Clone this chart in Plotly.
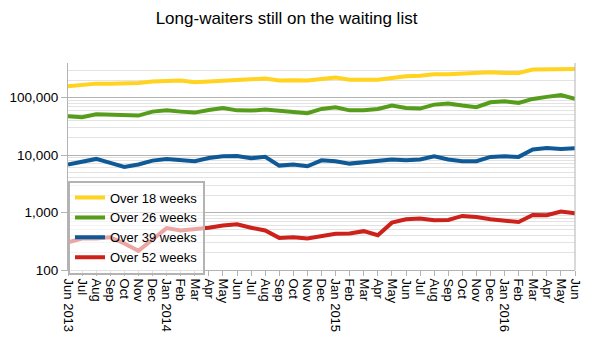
import math
import plotly.graph_objects as go

month_labels = [
    "Jun 2013", "Jul", "Aug", "Sep", "Oct", "Nov", "Dec",
    "Jan 2014", "Feb", "Mar", "Apr", "May", "Jun", "Jul", "Aug", "Sep", "Oct", "Nov", "Dec",
    "Jan 2015", "Feb", "Mar", "Apr", "May", "Jun", "Jul", "Aug", "Sep", "Oct", "Nov", "Dec",
    "Jan 2016", "Feb", "Mar", "Apr", "May", "Jun",
]

over_18 = [157000, 166000, 175000, 175000, 177000, 180000, 190000, 195000, 198000, 185000,
           192000, 200000, 203000, 208000, 214000, 198000, 200000, 198000, 211000, 223000,
           205000, 205000, 205000, 220000, 235000, 241000, 254000, 254000, 261000, 261000,
           275000, 269000, 269000, 307000, 307000, 307000, 316000]
over_26 = [47300, 45500, 51300, 50000, 49000, 48600, 57000, 60000, 57000, 54800,
           61000, 66000, 60000, 59400, 61800, 59400, 57800, 53400, 63500, 67900,
           60000, 60000, 63500, 72600, 66000, 64400, 75500, 78700, 72600, 68000,
           83000, 86000, 80800, 94800, 103000, 111000, 94800]
over_39 = [6840, 7800, 8570, 7300, 6230, 6840, 8000, 8570, 8100, 7800,
           8900, 9500, 9600, 8800, 9300, 6560, 6840, 6380, 8100, 7800,
           7100, 7500, 7800, 8360, 8100, 8360, 9500, 8360, 7800, 7800,
           9300, 9500, 9300, 12500, 13300, 12800, 13100]
over_52 = [304, 352, 352, 372, 290, 216, 339, 536, 487, 508,
           544, 597, 623, 544, 487, 362, 372, 352, 388, 426,
           431, 474, 403, 667, 763, 784, 733, 743, 873, 839,
           763, 733, 684, 910, 897, 1041, 973]

series_names = ["Over 18 weeks", "Over 26 weeks", "Over 39 weeks", "Over 52 weeks"]
series_values = [over_18, over_26, over_39, over_52]
series_colors = ["#ffd320", "#579d1c", "#0f5a96", "#cc221b"]

x_idx = list(range(len(month_labels)))

fig = go.Figure()
for name, vals, col in zip(series_names, series_values, series_colors):
    fig.add_trace(go.Scatter(
        x=x_idx, y=vals, name=name, mode="lines",
        line=dict(color=col, width=4),
    ))

fig.update_layout(
    width=592, height=347,
    margin=dict(l=62, r=9, t=63, b=77),
    paper_bgcolor="white", plot_bgcolor="white",
    font=dict(family="Liberation Sans, Arial, sans-serif", size=13, color="black"),
    title=dict(text="Long-waiters still on the waiting list", x=0.484, xanchor="center",
               y=1 - 18 / 347, yanchor="middle", yref="container",
               font=dict(size=17, color="black")),
    showlegend=True,
    legend=dict(x=0, y=-0.022, xanchor="left", yanchor="bottom",
                bgcolor="rgba(255,255,255,0.6)", bordercolor="#b3b3b3", borderwidth=2,
                font=dict(size=13), tracegroupgap=0),
)

fig.update_xaxes(
    range=[0, len(month_labels) - 1],
    tickmode="array", tickvals=x_idx, ticktext=month_labels,
    tickangle=90, ticks="outside", ticklen=5, tickcolor="#b3b3b3",
    showline=True, linecolor="#b3b3b3", linewidth=1,
    showgrid=False, zeroline=False, mirror=False,
    tickfont=dict(size=13),
)
fig.update_yaxes(
    type="log", range=[2, math.log10(400000)],
    tickvals=[100, 1000, 10000, 100000], tickformat=",d",
    ticks="outside", ticklen=6, tickcolor="#b3b3b3",
    showline=True, linecolor="#b3b3b3", linewidth=1, mirror=False,
    showgrid=True, gridcolor="#b3b3b3", gridwidth=1,
    minor=dict(tickvals=[m * 10 ** e for e in range(2, 6) for m in range(2, 10)],
               showgrid=True, gridcolor="#e3e3e3", gridwidth=1, ticks=""),
    zeroline=False, tickfont=dict(size=13.5),
)
# right border of plot area
fig.add_shape(type="line", xref="paper", yref="paper", x0=1, x1=1, y0=0, y1=1,
              line=dict(color="#b3b3b3", width=1))

fig.write_html("out.html")
